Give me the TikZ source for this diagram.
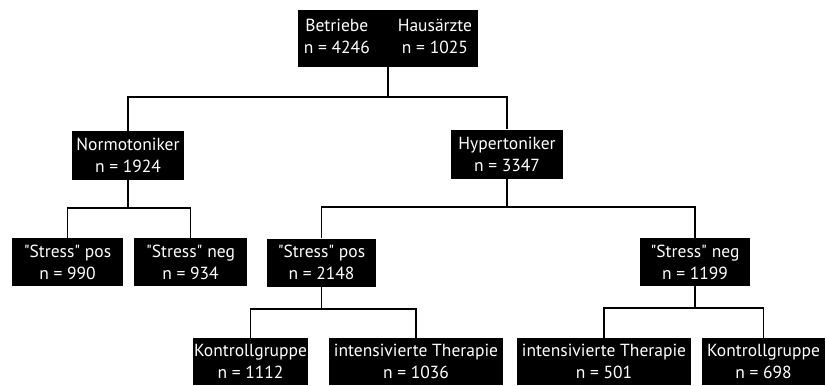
\documentclass[tikz,border=0pt]{standalone}
\usepackage{fontspec}
\setmainfont{PT Sans}
\usetikzlibrary{positioning}
\newcommand{\qq}[1]{\textquotedbl#1\textquotedbl}

\begin{document}
\begin{tikzpicture}[x=1pt,y=-1pt]
\tikzstyle{box}=[rectangle, fill=black, text=white, align=center, inner sep=0pt, minimum height=48pt, font=\fontsize{17.5}{22}\selectfont]
\tikzstyle{wbox}=[box, minimum width=174pt]
\tikzstyle{conn}=[draw=black, line width=1.3pt]
\fill[white] (0,0) rectangle (826,385);
\useasboundingbox (0,0) rectangle (826,385);
% Stichprobe
\node (top) [box, minimum width=180pt, minimum height=57pt] at (388,38.5)
  {\begin{tabular}{@{}c@{\hspace{28pt}}c@{}}Betriebe & Hausärzte\\ n = 4246 & n = 1025\end{tabular}};
% Blutdruck
\node (normo) [box, minimum width=112pt, minimum height=49pt] at (128,155.5) {Normotoniker\\n = 1924};
\node (hyper) [box, minimum width=112pt, minimum height=49pt] at (507,154) {Hypertoniker\\n = 3347};
% Stress
\node (npos) [box, minimum width=111pt] at (67.5,262) {\qq{Stress} pos\\n = 990};
\node (nneg) [box, minimum width=113pt] at (190.5,262) {\qq{Stress} neg\\n = 934};
\node (hpos) [box, minimum width=109pt] at (321.5,262.5) {\qq{Stress} pos\\n = 2148};
\node (hneg) [box, minimum width=110pt] at (695,262) {\qq{Stress} neg\\n = 1199};
% Therapie
\node (hpk) [box, minimum width=115pt, minimum height=47pt] at (250.5,361.5) {Kontrollgruppe\\n = 1112};
\node (hpi) [wbox, minimum height=47pt] at (416,361.5) {intensivierte Therapie\\n = 1036};
\node (hni) [wbox, minimum height=47pt] at (604,361.5) {intensivierte Therapie\\n = 501};
\node (hnk) [box, minimum width=123pt, minimum height=47pt] at (763.5,361.5) {Kontrollgruppe\\n = 698};
% Verbindungen
\coordinate (b0) at (388,97);
\coordinate (b1) at (128,208);
\coordinate (b2) at (507,207);
\coordinate (b3) at (321.5,309);
\coordinate (b4) at (695,308);
\draw[conn] (top.south) -- (b0);
\draw[conn] (normo.north) |- (b0) -| (hyper.north);
\draw[conn] (normo.south) -- (b1);
\draw[conn] (npos.north) |- (b1) -| (nneg.north);
\draw[conn] (hyper.south) -- (b2);
\draw[conn] (hpos.north) |- (b2) -| (hneg.north);
\draw[conn] (hpos.south) -- (b3);
\draw[conn] (hpk.north) |- (b3) -| (hpi.north);
\draw[conn] (hneg.south) -- (b4);
\draw[conn] (hni.north) |- (b4) -| (hnk.north);
\end{tikzpicture}
\end{document}
